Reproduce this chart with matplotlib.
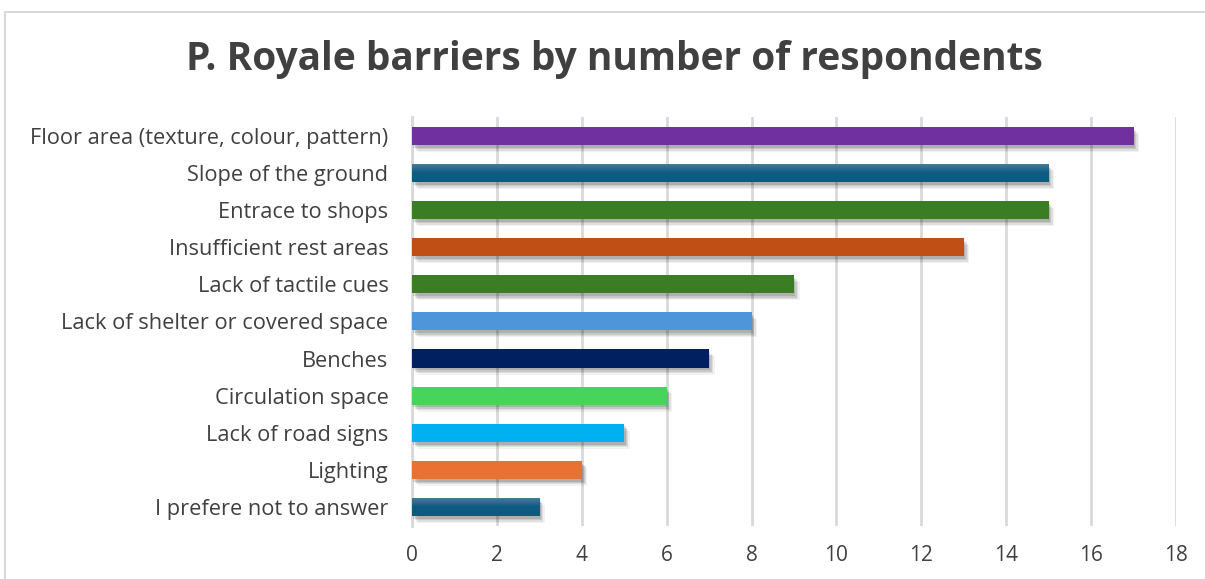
import numpy as np
import matplotlib.pyplot as plt
import matplotlib.patheffects as pe
from matplotlib.patches import Rectangle
from matplotlib.colors import LinearSegmentedColormap

plt.rcParams['font.family'] = ['Open Sans', 'DejaVu Sans']

# barriers, top to bottom
labels = [
    "Floor area (texture, colour, pattern)",
    "Slope of the ground",
    "Entrace to shops",
    "Insufficient rest areas",
    "Lack of tactile cues",
    "Lack of shelter or covered space",
    "Benches",
    "Circulation space",
    "Lack of road signs",
    "Lighting",
    "I prefere not to answer",
]
counts = [17, 15, 15, 13, 9, 8, 7, 6, 5, 4, 3]
colors = ["#7030a0", "#0e5c82", "#3a7d22", "#c04f15", "#3a7d22", "#4e95d9",
          "#002060", "#47d45a", "#00b0f0", "#e97132", "#0e5c82"]
gradient = [False, True, False, False, False, False,
            False, False, False, False, True]

fig = plt.figure(figsize=(12.05, 5.79), dpi=100)
fig.patches.append(Rectangle((5 / 1205, -0.1), 1.2, 1 - 12 / 579 + 0.1,
                             transform=fig.transFigure, fill=False,
                             edgecolor="#d9d9d9", linewidth=1.5))
ax = fig.add_axes([0.3419, 0.0924, 0.634, 0.705])

y = np.arange(len(labels))
bars = ax.barh(y, counts, height=0.49, color=colors, zorder=3)

# soft drop shadow built from a few offset layers
shadow = [pe.SimplePatchShadow(offset=(dx, -dy), shadow_rgbFace="black", alpha=a)
          for dx, dy, a in [(1, 2, 0.12), (2, 3, 0.10), (3, 4, 0.08), (4, 5, 0.05)]]
for b in bars:
    b.set_path_effects(shadow + [pe.Normal()])

# vertical shading on the blue bars
grad = np.linspace(0, 1, 64).reshape(-1, 1)
cmap = LinearSegmentedColormap.from_list("blue", ["#4a7f9e", "#0e5c82", "#0b5a80"])
for b, g in zip(bars, gradient):
    if g:
        x0, y0, w, h = b.get_x(), b.get_y(), b.get_width(), b.get_height()
        im = ax.imshow(grad, cmap=cmap, aspect="auto", zorder=4,
                       extent=(x0, x0 + w, y0 + h, y0), origin="upper")
        im.set_clip_path(b)

ax.set_xlim(0, 18)
ax.set_ylim(len(labels) - 0.5, -0.5)
ax.set_xticks(np.arange(0, 19, 2))
ax.set_yticks(y, labels)
ax.tick_params(axis="both", length=0, labelcolor="#404040")
ax.tick_params(axis="y", pad=17, labelsize=15.7)
ax.tick_params(axis="x", pad=14, labelsize=15)
ax.grid(axis="x", color="#d9d9d9", linewidth=2, zorder=0)
for s in ["top", "right", "bottom"]:
    ax.spines[s].set_visible(False)
ax.spines["left"].set_color("#d9d9d9")
ax.spines["left"].set_linewidth(2)

fig.text(0.51, 0.897, "P. Royale barriers by number of respondents",
         ha="center", va="center", fontsize=28, fontweight="bold", color="#404040")

fig.savefig("out.png", dpi=100)
